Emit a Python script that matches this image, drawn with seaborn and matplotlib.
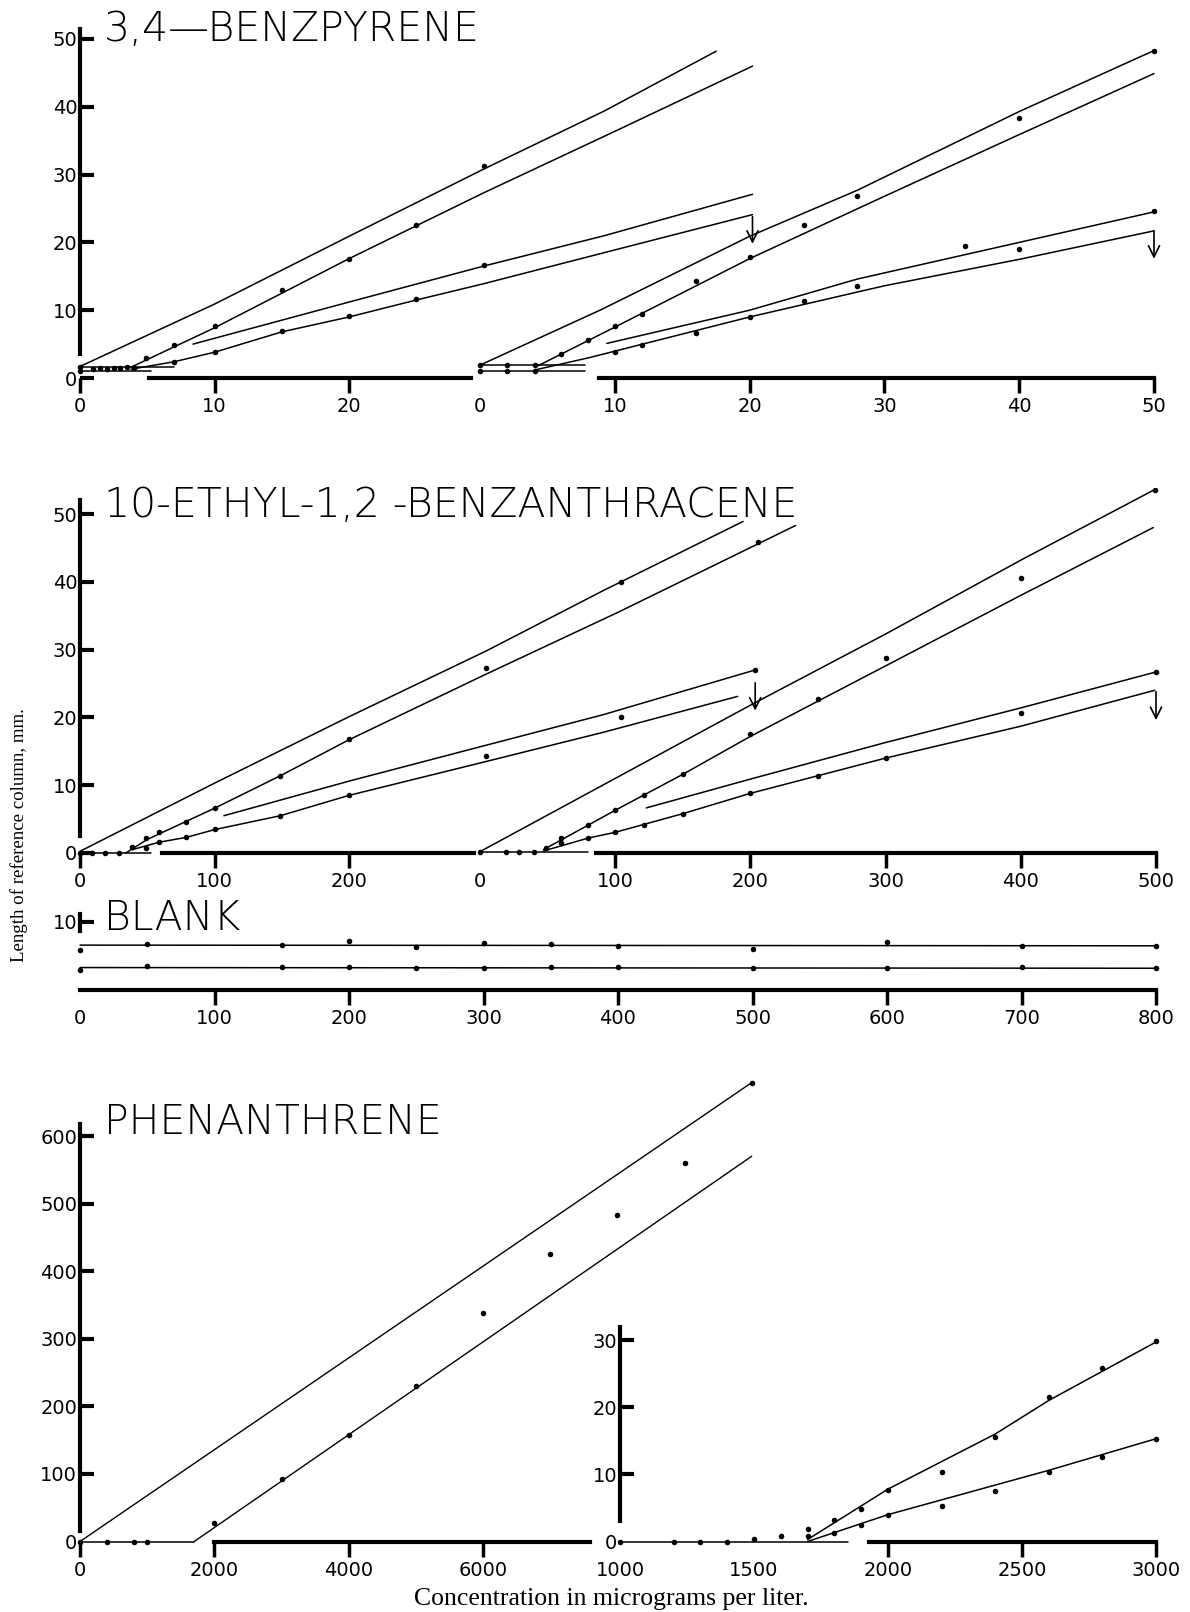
import numpy as np
import pandas as pd
import seaborn as sns
import matplotlib.pyplot as plt

sns.set_style('ticks')
sns.set_context('paper')
plt.rcParams['font.family'] = ['DejaVu Sans']
plt.rcParams.update({'text.color': 'black', 'axes.edgecolor': 'black',
                     'xtick.color': 'black', 'ytick.color': 'black',
                     'axes.labelcolor': 'black'})

W, H = 1190, 1612

# ---------------- 3,4-BENZPYRENE (left group, left scale) ----------------
bpl_base_hi_x, bpl_base_hi_y = [0, 7], [1.6, 1.6]
bpl_base_lo_x, bpl_base_lo_y = [0, 5.3], [1.0, 1.0]
bpl_base_dot_x = [0, 0, 1, 1.5, 2, 2.5, 3, 3.5, 4]
bpl_base_dot_y = [1.6, 1.0, 1.4, 1.5, 1.4, 1.5, 1.5, 1.6, 1.5]
bpl_a_x, bpl_a_y = [0, 10, 20, 30, 39, 47.3], [1.7, 10.9, 20.9, 30.8, 39.4, 48.2]
bpl_a_dot_x, bpl_a_dot_y = [30], [31.2]
bpl_b_x, bpl_b_y = [3.8, 10, 20, 30, 40, 50], [1.6, 7.4, 17.6, 27.3, 36.6, 46.0]
bpl_b_dot_x = [4.9, 7, 10, 15, 20, 25]
bpl_b_dot_y = [3.0, 4.8, 7.6, 13.0, 17.6, 22.6]
bpl_c_x, bpl_c_y = [8.4, 20, 30, 39, 50], [5.0, 11.2, 16.5, 21.0, 27.1]
bpl_c_dot_x, bpl_c_dot_y = [30], [16.6]
bpl_d_x = [3.8, 7, 10, 15, 20, 25, 30, 39, 50]
bpl_d_y = [1.3, 2.4, 3.8, 6.8, 9.0, 11.5, 13.9, 18.5, 24.1]
bpl_d_dot_x, bpl_d_dot_y = [7, 10, 15, 20, 25], [2.4, 3.9, 6.9, 9.2, 11.6]
bpl_arrow = (50, 23.8, 19.8)

# ---------------- 3,4-BENZPYRENE (right group) ----------------
bpr_base_hi_x, bpr_base_hi_y = [0, 7.8], [1.9, 1.9]
bpr_base_lo_x, bpr_base_lo_y = [0, 7.8], [1.06, 1.06]
bpr_base_dot_x = [0, 2, 4.1, 0, 2, 4.1]
bpr_base_dot_y = [1.9, 1.9, 1.9, 1.1, 1.1, 1.1]
bpr_e_x, bpr_e_y = [0, 8.9, 20, 28, 40, 50], [1.9, 10.0, 20.9, 27.7, 39.3, 48.3]
bpr_e_dot_x, bpr_e_dot_y = [24, 28, 40, 50], [22.6, 26.9, 38.4, 48.3]
bpr_f_x, bpr_f_y = [4.1, 10, 20, 30, 40, 50], [1.6, 7.5, 17.6, 26.8, 35.9, 44.9]
bpr_f_dot_x, bpr_f_dot_y = [6, 8, 10, 12, 16, 20], [3.5, 5.6, 7.6, 9.5, 14.3, 17.8]
bpr_g_x, bpr_g_y = [9.4, 20, 28, 40, 50], [5.1, 10.0, 14.6, 20.0, 24.5]
bpr_g_dot_x, bpr_g_dot_y = [24, 28, 36, 40, 50], [11.4, 13.5, 19.4, 19.1, 24.7]
bpr_h_x, bpr_h_y = [4.1, 8.1, 20, 30, 40, 50], [1.2, 3.0, 9.0, 13.6, 17.5, 21.7]
bpr_h_dot_x, bpr_h_dot_y = [10, 12, 16, 20], [3.8, 4.85, 6.65, 9.0]
bpr_arrow = (50, 21.7, 17.6)

# ---------------- 10-ETHYL-1,2-BENZANTHRACENE (left group) ----------------
bzl_base_x, bzl_base_y = [0, 53], [0.0, 0.0]
bzl_base_dot_x, bzl_base_dot_y = [0, 8.6, 18.6, 29], [0.0, 0.0, 0.0, 0.0]
bzl_a_x = [0, 100, 200, 302, 389, 493]
bzl_a_y = [0.25, 10.3, 20.1, 29.8, 38.7, 48.9]
bzl_a_dot_x, bzl_a_dot_y = [402], [40.0]
bzl_b_x = [34, 50, 100, 150, 200, 300, 400, 532]
bzl_b_y = [0.0, 2.0, 6.6, 11.5, 16.7, 26.2, 35.5, 48.3]
bzl_b_dot_x = [39, 49, 59, 79, 100, 149, 200, 302, 504]
bzl_b_dot_y = [0.9, 2.2, 3.1, 4.5, 6.7, 11.4, 16.8, 27.3, 45.9]
bzl_c_x, bzl_c_y = [107, 200, 302, 389, 502], [5.5, 10.6, 15.9, 20.4, 27.0]
bzl_c_dot_x, bzl_c_dot_y = [402, 502], [20.1, 27.0]
bzl_d_x = [39, 59, 79, 100, 149, 200, 302, 389, 489]
bzl_d_y = [0.5, 1.6, 2.3, 3.45, 5.5, 8.5, 13.5, 17.8, 23.1]
bzl_d_dot_x = [49, 59, 79, 100, 149, 200, 302]
bzl_d_dot_y = [0.8, 1.6, 2.3, 3.5, 5.4, 8.6, 14.3]
bzl_arrow = (502, 25.1, 21.0)

# ---------------- 10-ETHYL-1,2-BENZANTHRACENE (right group) ----------------
bzr_base_x, bzr_base_y = [0, 80], [0.2, 0.2]
bzr_base_dot_x, bzr_base_dot_y = [0, 19, 29, 40], [0.1, 0.1, 0.1, 0.1]
bzr_e_x = [0, 200, 300, 401, 499]
bzr_e_y = [0.2, 21.8, 32.3, 43.3, 53.6]
bzr_e_dot_x, bzr_e_dot_y = [499], [53.6]
bzr_f_x = [47, 100, 150, 200, 300, 400, 498]
bzr_f_y = [0.5, 6.3, 11.6, 17.2, 27.6, 38.0, 48.0]
bzr_f_dot_x = [49, 60, 80, 100, 121, 150, 200, 250, 300, 400]
bzr_f_dot_y = [0.7, 2.2, 4.2, 6.3, 8.5, 11.6, 17.6, 22.7, 28.7, 40.6]
bzr_g_x, bzr_g_y = [123, 200, 300, 400, 500], [6.65, 10.9, 16.3, 21.4, 26.7]
bzr_g_dot_x, bzr_g_dot_y = [500], [26.7]
bzr_h_x = [47, 80, 100, 150, 200, 250, 300, 400, 499]
bzr_h_y = [0.3, 2.2, 3.05, 5.8, 8.8, 11.4, 14.0, 18.7, 24.0]
bzr_h_dot_x = [60, 80, 100, 121, 150, 200, 250, 300, 400]
bzr_h_dot_y = [1.5, 2.2, 3.05, 4.2, 5.8, 8.8, 11.4, 14.0, 20.6]
bzr_arrow = (500, 23.8, 19.6)

# ---------------- BLANK ----------------
blank_x = [0, 50, 150, 200, 250, 300, 350, 400, 500, 600, 700, 800]
blank_hi = [5.9, 6.8, 6.6, 7.2, 6.3, 6.9, 6.8, 6.4, 6.1, 7.0, 6.4, 6.4]
blank_lo = [2.9, 3.5, 3.4, 3.4, 3.2, 3.3, 3.4, 3.4, 3.2, 3.3, 3.4, 3.3]
blank_fit_x = [0, 800]
blank_fit_hi = [6.6, 6.5]
blank_fit_lo = [3.3, 3.2]

# ---------------- PHENANTHRENE ----------------
ph_base_x, ph_base_y = [0, 1700], [0, 0]
ph_base_dot_x, ph_base_dot_y = [0, 400, 800, 1000], [0, 0, 0, 0]
ph_hi_x, ph_hi_y = [0, 10000], [0, 679]
ph_hi_dot_x, ph_hi_dot_y = [10000], [679]
ph_lo_x, ph_lo_y = [1700, 10000], [0, 570]
ph_dot_x = [2000, 3000, 4000, 5000, 6000, 7000, 8000, 9000]
ph_dot_y = [27, 93, 157, 230, 338, 426, 483, 560]

phi_base_x, phi_base_y = [1000, 1850], [0, 0]
phi_base_dot_x = [1000, 1200, 1300, 1400, 1500, 1600]
phi_base_dot_y = [0, 0, 0, 0, 0.3, 0.8]
phi_hi_x, phi_hi_y = [1700, 2000, 2400, 2600, 3000], [0.3, 7.8, 16.0, 21.0, 29.7]
phi_lo_x, phi_lo_y = [1700, 2000, 2600, 3000], [0.0, 4.0, 10.6, 15.3]
phi_dot_x = [1700, 1800, 1900, 2000, 2200, 2400, 2600, 2800, 3000]
phi_hi_dot = [1.9, 3.2, 4.9, 7.7, 10.3, 15.6, 21.5, 25.9, 29.8]
phi_lo_dot = [0.8, 1.2, 2.5, 4.0, 5.3, 7.5, 10.4, 12.6, 15.2]


fig = plt.figure(figsize=(W / 100, H / 100), dpi=100)


def new_axes(box):
    l, t, r, b = box
    ax = fig.add_axes([l / W, 1 - b / H, (r - l) / W, (b - t) / H])
    ax.patch.set_alpha(0)
    return ax


def fit_px(ax, box, xmap, ymap):
    # set limits so data values land on the wanted pixel positions
    l, t, r, b = box
    (v0, p0), (v1, p1) = xmap
    k = (v1 - v0) / (p1 - p0)
    ax.set_xlim(v0 + (l - p0) * k, v0 + (r - p0) * k)
    (w0, q0), (w1, q1) = ymap
    k = (w1 - w0) / (q1 - q0)
    ax.set_ylim(w0 + (b - q0) * k, w0 + (t - q0) * k)


def line(ax, x, y, lw=1.1):
    sns.lineplot(x=x, y=y, ax=ax, color='black', lw=lw,
                 estimator=None, sort=False, legend=False)


def dots(ax, x, y):
    sns.scatterplot(x=x, y=y, ax=ax, color='black', s=16,
                    linewidth=0, legend=False, zorder=3)


def arrow(ax, a):
    x, y0, y1 = a
    ax.annotate('', xy=(x, y1), xytext=(x, y0),
                arrowprops=dict(arrowstyle='->', lw=1.2, color='black',
                                shrinkA=0, shrinkB=0, mutation_scale=20))


def style(ax, xticks, yticks=None, xb=None, yb=None,
          hide_x=(), hide_y=(), show_left=True):
    for s in ['top', 'right']:
        ax.spines[s].set_visible(False)
    ax.spines['bottom'].set_position(('data', 0))
    ax.spines['bottom'].set_linewidth(3)
    if xb is not None:
        ax.spines['bottom'].set_bounds(*xb)
    else:
        ax.spines['bottom'].set_visible(False)
    ax.set_xticks(xticks)
    ax.set_xticklabels([str(v) for v in xticks])
    ax.tick_params(axis='x', direction='out', length=11, width=2.5,
                   labelsize=14, pad=3)
    for tk, v in zip(ax.xaxis.get_major_ticks(), xticks):
        if v in hide_x:
            tk.tick1line.set_visible(False)
    if show_left:
        ax.spines['left'].set_position(('data', xticks[0]))
        ax.spines['left'].set_linewidth(3)
        if yb is not None:
            ax.spines['left'].set_bounds(*yb)
        ax.set_yticks(yticks)
        ax.set_yticklabels([str(v) for v in yticks])
        ax.tick_params(axis='y', direction='in', length=10, width=3,
                       labelsize=14, pad=2)
        for tk, v in zip(ax.yaxis.get_major_ticks(), yticks):
            if v in hide_y:
                tk.tick1line.set_visible(False)
    else:
        ax.spines['left'].set_visible(False)
        ax.yaxis.set_visible(False)
    ax.set_xlabel('')
    ax.set_ylabel('')


def title(text, x, y, size=29.5):
    fig.text(x / W, 1 - y / H, text, fontsize=size, ha='left', va='center',
             fontweight='light')


# ---------- panel 1 ----------
box1 = (55, 15, 1180, 398)
ym1 = ((0, 378), (50, 39))
ax = new_axes(box1)
line(ax, bpl_base_hi_x, bpl_base_hi_y)
line(ax, bpl_base_lo_x, bpl_base_lo_y)
dots(ax, bpl_base_dot_x, bpl_base_dot_y)
for lx, ly in [(bpl_a_x, bpl_a_y), (bpl_b_x, bpl_b_y),
               (bpl_c_x, bpl_c_y), (bpl_d_x, bpl_d_y)]:
    line(ax, lx, ly)
for dx, dy in [(bpl_a_dot_x, bpl_a_dot_y), (bpl_b_dot_x, bpl_b_dot_y),
               (bpl_c_dot_x, bpl_c_dot_y), (bpl_d_dot_x, bpl_d_dot_y)]:
    dots(ax, dx, dy)
arrow(ax, bpl_arrow)
fit_px(ax, box1, ((0, 80), (20, 349)), ym1)
style(ax, [0, 10, 20], [0, 10, 20, 30, 40, 50], xb=(5.1, 29.1), yb=(3.5, 51.5))

ax = new_axes(box1)
line(ax, bpr_base_hi_x, bpr_base_hi_y)
line(ax, bpr_base_lo_x, bpr_base_lo_y)
dots(ax, bpr_base_dot_x, bpr_base_dot_y)
for lx, ly in [(bpr_e_x, bpr_e_y), (bpr_f_x, bpr_f_y),
               (bpr_g_x, bpr_g_y), (bpr_h_x, bpr_h_y)]:
    line(ax, lx, ly)
for dx, dy in [(bpr_e_dot_x, bpr_e_dot_y), (bpr_f_dot_x, bpr_f_dot_y),
               (bpr_g_dot_x, bpr_g_dot_y), (bpr_h_dot_x, bpr_h_dot_y)]:
    dots(ax, dx, dy)
arrow(ax, bpr_arrow)
fit_px(ax, box1, ((0, 480), (50, 1154)), ym1)
style(ax, [0, 10, 20, 30, 40, 50], xb=(8.8, 50), hide_x=(0,), show_left=False)
title('3,4\u2014BENZPYRENE', 104, 29)

# ---------- panel 2 ----------
box2 = (55, 488, 1180, 873)
ym2 = ((0, 853), (50, 514))
ax = new_axes(box2)
line(ax, bzl_base_x, bzl_base_y)
dots(ax, bzl_base_dot_x, bzl_base_dot_y)
for lx, ly in [(bzl_a_x, bzl_a_y), (bzl_b_x, bzl_b_y),
               (bzl_c_x, bzl_c_y), (bzl_d_x, bzl_d_y)]:
    line(ax, lx, ly)
for dx, dy in [(bzl_a_dot_x, bzl_a_dot_y), (bzl_b_dot_x, bzl_b_dot_y),
               (bzl_c_dot_x, bzl_c_dot_y), (bzl_d_dot_x, bzl_d_dot_y)]:
    dots(ax, dx, dy)
arrow(ax, bzl_arrow)
fit_px(ax, box2, ((0, 80), (200, 349)), ym2)
style(ax, [0, 100, 200], [0, 10, 20, 30, 40, 50], xb=(61, 293), yb=(2.5, 52))

ax = new_axes(box2)
line(ax, bzr_base_x, bzr_base_y)
dots(ax, bzr_base_dot_x, bzr_base_dot_y)
for lx, ly in [(bzr_e_x, bzr_e_y), (bzr_f_x, bzr_f_y),
               (bzr_g_x, bzr_g_y), (bzr_h_x, bzr_h_y)]:
    line(ax, lx, ly)
for dx, dy in [(bzr_e_dot_x, bzr_e_dot_y), (bzr_f_dot_x, bzr_f_dot_y),
               (bzr_g_dot_x, bzr_g_dot_y), (bzr_h_dot_x, bzr_h_dot_y)]:
    dots(ax, dx, dy)
arrow(ax, bzr_arrow)
fit_px(ax, box2, ((0, 480), (500, 1156)), ym2)
style(ax, [0, 100, 200, 300, 400, 500], xb=(86, 500), hide_x=(0,),
      show_left=False)
title('10-ETHYL-1,2 -BENZANTHRACENE', 104, 505)

# ---------- panel 3 ----------
box3 = (55, 900, 1180, 1003)
ax = new_axes(box3)
line(ax, blank_fit_x, blank_fit_hi)
line(ax, blank_fit_x, blank_fit_lo)
dots(ax, blank_x, blank_hi)
dots(ax, blank_x, blank_lo)
fit_px(ax, box3, ((0, 80), (800, 1156)), ((0, 990), (10, 922)))
style(ax, [0, 100, 200, 300, 400, 500, 600, 700, 800], [10],
      xb=(0, 800), yb=(8.7, 11.2), hide_x=(0,))
ax.set_xticks([0], minor=True)
ax.tick_params(axis='x', which='minor', direction='in', length=9, width=3)
title('BLANK', 104, 919)

# ---------- panel 4 ----------
box4 = (55, 1050, 1180, 1560)
ax = new_axes(box4)
line(ax, ph_base_x, ph_base_y)
dots(ax, ph_base_dot_x, ph_base_dot_y)
line(ax, ph_hi_x, ph_hi_y, lw=1.0)
line(ax, ph_lo_x, ph_lo_y, lw=1.0)
dots(ax, ph_hi_dot_x, ph_hi_dot_y)
dots(ax, ph_dot_x, ph_dot_y)
fit_px(ax, box4, ((0, 80), (6000, 483)), ((0, 1541.5), (600, 1136)))
style(ax, [0, 2000, 4000, 6000], [0, 100, 200, 300, 400, 500, 600],
      xb=(2000, 7600), yb=(15, 618), hide_y=(0,))
title('PHENANTHRENE', 104, 1122)

box5 = (585, 1320, 1180, 1560)
ax = new_axes(box5)
line(ax, phi_base_x, phi_base_y)
dots(ax, phi_base_dot_x, phi_base_dot_y)
line(ax, phi_hi_x, phi_hi_y)
line(ax, phi_lo_x, phi_lo_y)
dots(ax, phi_dot_x, phi_hi_dot)
dots(ax, phi_dot_x, phi_lo_dot)
fit_px(ax, box5, ((2000, 888), (3000, 1156)), ((0, 1541.5), (30, 1340)))
style(ax, [1000, 1500, 2000, 2500, 3000], [0, 10, 20, 30],
      xb=(1930, 3000), yb=(3, 32), hide_x=(1000, 1500), hide_y=(0,))

fig.text(19 / W, 1 - 835 / H, 'Length of reference column, mm.',
         rotation=90, ha='center', va='center', fontsize=13.6,
         family=['Liberation Serif', 'DejaVu Serif'])
fig.text(611 / W, 1 - 1599 / H, 'Concentration in micrograms per liter.',
         ha='center', va='center', fontsize=18.5,
         family=['Liberation Serif', 'DejaVu Serif'])

fig.savefig('out.png', dpi=100)
